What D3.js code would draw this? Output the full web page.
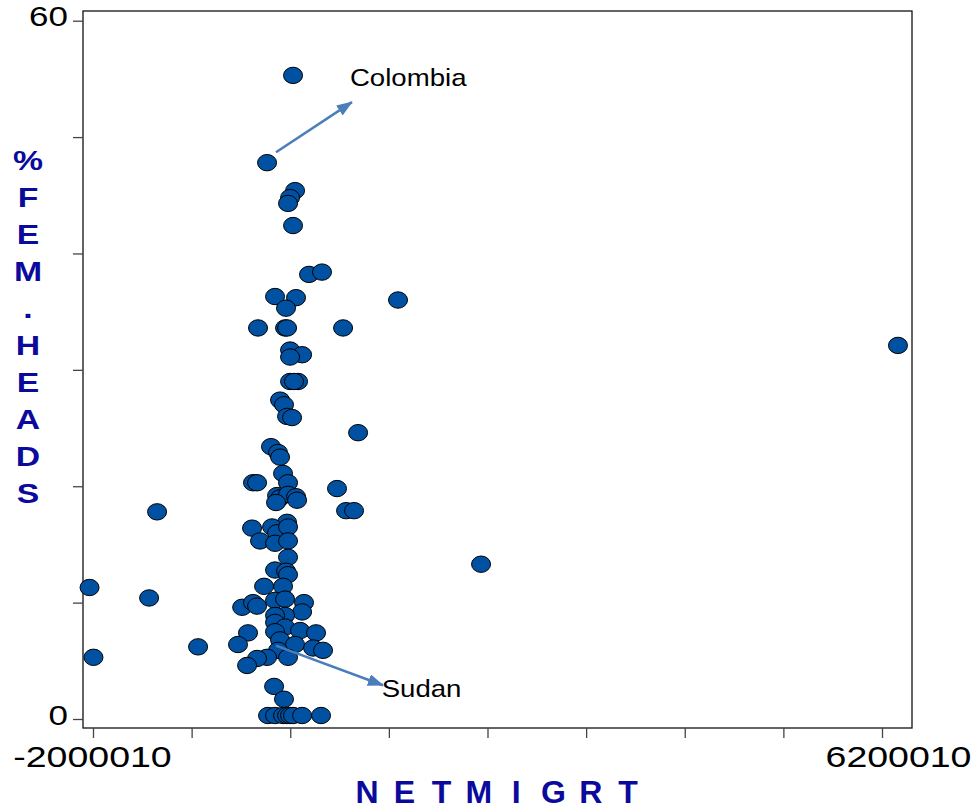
<!DOCTYPE html>
<html>
<head>
<meta charset="utf-8">
<script src="https://cdn.jsdelivr.net/npm/d3@7"></script>
<style>
	body { margin: 0; background: #fff; }
	svg { display: block; }
	text { font-family: Arial, "Liberation Sans", sans-serif; }
</style>
</head>
<body>
<script>

// net migration (x) and % female-headed households (y)
var netmigrt = [
	79000, -191000, 100000, 48000, 27000, 79000, 245000, 380000, -108000, 110000,
	1170000, 6000, -285000, -4000, 17000, 599000, 48000, 173000, 48000, 6366000,
	48000, 131000, 89000, -56000, -15000, 17000, 69000, 755000, -150000, -77000,
	-56000, -25000, -337000, -295000, 27000, -87000, -56000, 27000, 110000, 121000,
	-98000, 536000, 630000, 713000, -1334000, 17000, -347000, -139000, -87000, 27000,
	-264000, -108000, 27000, 27000, 2033000, -108000, 6000, 27000, -2036000, -222000,
	-25000, -1417000, -450000, -337000, -295000, -108000, -4000, 193000, 173000, -4000,
	-108000, -108000, -4000, 152000, -108000, -389000, 318000, -493000, -908000, -56000,
	100000, -77000, 287000, 391000, 27000, -191000, -295000, -399000, -1995000, -118000,
	-15000, -181000, -108000, -25000, 17000, 48000, 79000, 173000, 370000
];
var femheads = [
	55.3, 47.8, 45.4, 44.8, 44.3, 42.4, 38.2, 38.4, 36.3, 36.2,
	36.0, 35.3, 33.6, 33.6, 33.6, 33.6, 31.7, 31.3, 31.1, 32.1,
	29.0, 29.0, 29.0, 27.4, 27.0, 26.0, 25.9, 24.6, 23.4, 22.9,
	22.5, 21.1, 20.3, 20.3, 20.3, 19.2, 19.0, 19.3, 19.1, 18.8,
	18.6, 19.8, 17.9, 17.9, 17.8, 16.9, 16.4, 16.5, 16.0, 16.5,
	15.3, 15.1, 15.3, 13.9, 13.3, 12.8, 12.7, 12.4, 11.3, 11.4,
	11.4, 10.4, 9.6, 10.0, 9.7, 10.2, 10.3, 10.0, 9.2, 8.9,
	8.9, 8.3, 7.9, 7.6, 7.5, 7.4, 7.4, 6.4, 6.2, 6.8,
	6.4, 5.9, 6.1, 5.9, 5.3, 5.3, 5.2, 4.6, 5.3, 2.8,
	1.7, 0.3, 0.3, 0.3, 0.3, 0.3, 0.3, 0.3, 0.3
];

var xTicks = d3.range(0, 9).map(function (i) { return -2000010 + i * 1025002.5; });
var xTickLabels = ["-2000010", "", "", "", "", "", "", "", "6200010"];
var yTicks = [0, 10, 20, 30, 40, 50, 60];
var yTickLabels = ["0", "", "", "", "", "", "60"];

var notes = [
	{ label: "Colombia", x0: -98000, y0: 48.7, x1: 691000, y1: 53.0, tx: 670000, ty: 54.4 },
	{ label: "Sudan", x0: -98000, y0: 6.3, x1: 1013000, y1: 2.9, tx: 1000000, ty: 1.9 }
];

var W = 975, H = 811;
var box = { left: 83, top: 11, right: 912, bottom: 728 };

var x = d3.scaleLinear().domain([-2000010, 6200010]).range([93, 882]);
var y = d3.scaleLinear().domain([0, 60]).range([719, 20.7]);

var svg = d3.select("body").append("svg")
	.attr("width", W)
	.attr("height", H);

// frame
svg.append("rect")
	.attr("x", box.left)
	.attr("y", box.top)
	.attr("width", box.right - box.left)
	.attr("height", box.bottom - box.top)
	.attr("fill", "none")
	.attr("stroke", "#111")
	.attr("stroke-width", 1.3);

// x axis
var xAxis = svg.append("g")
	.attr("transform", "translate(0," + box.bottom + ")")
	.call(d3.axisBottom(x).tickValues(xTicks).tickSize(10)
		.tickFormat(function (d, i) { return xTickLabels[i]; }));
xAxis.select(".domain").remove();
xAxis.selectAll(".tick line").attr("stroke", "#444").attr("stroke-width", 1.3);
xAxis.selectAll(".tick text")
	.attr("fill", "#000")
	.attr("font-size", 30)
	.attr("y", 0)
	.attr("dy", 0)
	.attr("transform", function (d, i) {
		var dx = i == xTicks.length - 1 ? 16 : -1;
		return "translate(" + dx + ",39) scale(1.25,1)";
	});

// y axis
var yAxis = svg.append("g")
	.attr("transform", "translate(" + box.left + ",0)")
	.call(d3.axisLeft(y).tickValues(yTicks).tickSize(10)
		.tickFormat(function (d, i) { return yTickLabels[i]; }));
yAxis.select(".domain").remove();
yAxis.selectAll(".tick line").attr("stroke", "#444").attr("stroke-width", 1.3);
yAxis.selectAll(".tick text")
	.attr("fill", "#000")
	.attr("font-size", 28)
	.attr("x", 0)
	.attr("dy", 0)
	.attr("transform", "translate(-15,5) scale(1.25,1)");

// points
svg.append("g")
	.selectAll("ellipse")
	.data(netmigrt.map(function (d, i) { return [d, femheads[i]]; }))
	.enter().append("ellipse")
		.attr("cx", function (d) { return x(d[0]); })
		.attr("cy", function (d) { return y(d[1]); })
		.attr("rx", 9.5)
		.attr("ry", 8.2)
		.attr("fill", "#0051a2")
		.attr("stroke", "#000")
		.attr("stroke-width", 1);

// annotations
svg.append("defs").append("marker")
	.attr("id", "head")
	.attr("markerUnits", "userSpaceOnUse")
	.attr("viewBox", "0 0 16 12")
	.attr("refX", 15)
	.attr("refY", 6)
	.attr("markerWidth", 16)
	.attr("markerHeight", 12)
	.attr("orient", "auto")
	.append("path")
		.attr("d", "M0,0L16,6L0,12Z")
		.attr("fill", "#4a7ebb");

var note = svg.append("g").selectAll("g").data(notes).enter().append("g");
note.append("line")
	.attr("x1", function (d) { return x(d.x0); })
	.attr("y1", function (d) { return y(d.y0); })
	.attr("x2", function (d) { return x(d.x1); })
	.attr("y2", function (d) { return y(d.y1); })
	.attr("stroke", "#4a7ebb")
	.attr("stroke-width", 2.5)
	.attr("marker-end", "url(#head)");
note.append("text")
	.attr("transform", function (d) { return "translate(" + x(d.tx) + "," + y(d.ty) + ") scale(1.15,1)"; })
	.attr("font-size", 24)
	.attr("fill", "#000")
	.text(function (d) { return d.label; });

// axis titles
var ytitle = "%FEM.HEADS".split("");
svg.append("text")
	.attr("fill", "#0a0a9c")
	.attr("font-weight", "bold")
	.attr("font-size", 27)
	.attr("text-anchor", "middle")
	.attr("transform", "translate(28,0) scale(1.25,1)")
	.selectAll("tspan")
	.data(ytitle)
	.enter().append("tspan")
		.attr("x", 0)
		.attr("y", function (d, i) { return 170 + i * 37; })
		.text(function (d) { return d; });

var xtitle = "NETMIGRT".split("");
svg.append("text")
	.attr("fill", "#0a0a9c")
	.attr("font-weight", "bold")
	.attr("font-size", 32)
	.attr("text-anchor", "middle")
	.selectAll("tspan")
	.data(xtitle)
	.enter().append("tspan")
		.attr("x", function (d, i) { return 367 + i * 37.3; })
		.attr("y", 803)
		.text(function (d) { return d; });

</script>
</body>
</html>
